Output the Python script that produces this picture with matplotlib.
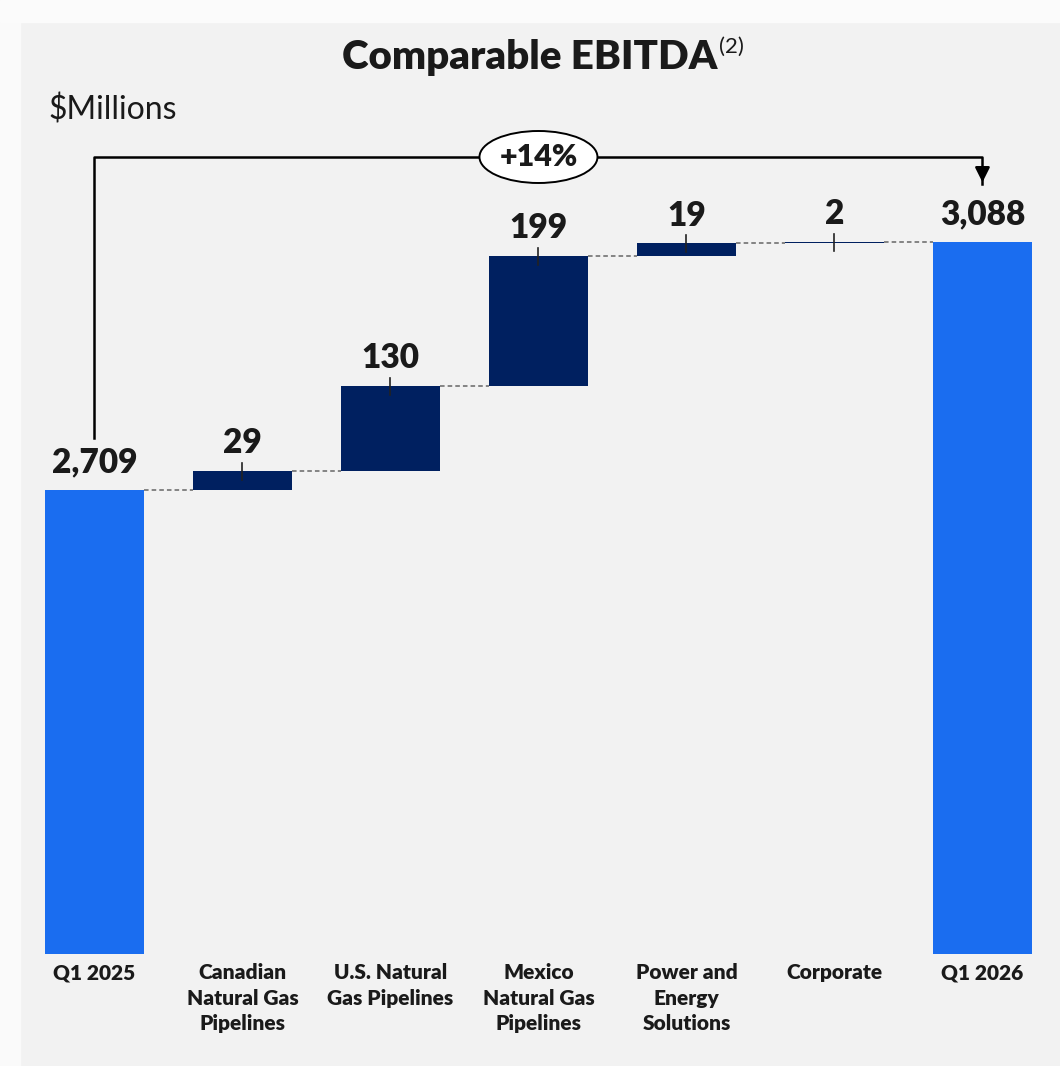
import matplotlib.pyplot as plt
from matplotlib.patches import Ellipse, Rectangle

plt.rcParams['font.family'] = ['Lato', 'DejaVu Sans']

categories = ["Q1 2025", "Canadian\nNatural Gas\nPipelines", "U.S. Natural\nGas Pipelines",
              "Mexico\nNatural Gas\nPipelines", "Power and\nEnergy\nSolutions", "Corporate", "Q1 2026"]
start_value = 2709
deltas = [29, 130, 199, 19, 2]
end_value = 3088
change_label = "+14%"
base = 2000  # chart baseline (axis not starting at zero)

total_col = '#1A6DF0'
delta_col = '#002060'
bg = '#F2F2F2'
txt = '#1A1A1A'
bold = 'heavy'

fig = plt.figure(figsize=(10.6, 10.66), dpi=100, facecolor=bg)
ax = fig.add_axes([0, 0, 1, 1])
ax.set_facecolor(bg)
ax.set_xlim(-0.6385, 6.524)
ax.set_ylim(1828.8, 3457.8)
ax.axis('off')

# slide edge decoration
fig.patches.append(Rectangle((0, 0), 20 / 1060, 1, transform=fig.transFigure, color='#FAFAFA', zorder=0))
fig.patches.append(Rectangle((0, 1 - 22 / 1066), 1, 22 / 1066, transform=fig.transFigure, color='#FBFBFB', zorder=0))

w = 0.67
# start/end bars
ax.bar(0, start_value - base, bottom=base, width=w, color=total_col, zorder=3)
ax.bar(6, end_value - base, bottom=base, width=w, color=total_col, zorder=3)

running = start_value
levels = [start_value]
for i, d in enumerate(deltas, start=1):
    ax.bar(i, d, bottom=running, width=w, color=delta_col, linewidth=0, zorder=3)
    ax.plot([i, i], [running + d - 14, running + d + 12], color='#222222', lw=1.2, zorder=4)
    ax.text(i, running + d + 18, f"{d:,}", ha='center', va='bottom', fontsize=24, fontweight=bold, color=txt)
    running += d
    levels.append(running)

# connectors
for i, lev in enumerate(levels):
    ax.plot([i + w / 2, i + 1 - w / 2], [lev, lev], ls=(0, (3, 2)), color='#666666', lw=1.1, zorder=2)

ax.text(0, start_value + 18, f"{start_value:,}", ha='center', va='bottom', fontsize=24, fontweight=bold, color=txt)
ax.text(6, end_value + 18, f"{end_value:,}", ha='center', va='bottom', fontsize=24, fontweight=bold, color=txt)

# category labels
for i, c in enumerate(categories):
    ax.text(i, base - 14, c, ha='center', va='top', fontsize=15, fontweight=bold, color=txt, linespacing=1.4)

# bracket with arrow
top_y = 3088 + 85 / 0.6544
ax.plot([0, 0, 6, 6], [start_value + 80, top_y, top_y, end_value + 88], color='black', lw=1.8, zorder=5)
ax.annotate('', xy=(6, end_value + 87), xytext=(6, end_value + 110),
            arrowprops=dict(arrowstyle='-|>', color='black', lw=1.8, mutation_scale=22), zorder=6)
ax.add_patch(Ellipse((3.0, top_y), 118 / 148, 52 / 0.6544, facecolor='white', edgecolor='black', lw=1.4, zorder=6))
ax.text(3.0, top_y, change_label, ha='center', va='center', fontsize=22, fontweight=bold, color=txt, zorder=7)

# titles
fig.text(717 / 1060, 1 - 58 / 1066, "Comparable EBITDA", ha='right', va='center', fontsize=29, fontweight=bold, color=txt)
fig.text(719 / 1060, 1 - 47 / 1066, "(2)", ha='left', va='center', fontsize=16, color=txt)
fig.text(48 / 1060, 1 - 110 / 1066, "$Millions", ha='left', va='center', fontsize=23, color=txt)

fig.savefig('out.png', dpi=100, facecolor=bg)
